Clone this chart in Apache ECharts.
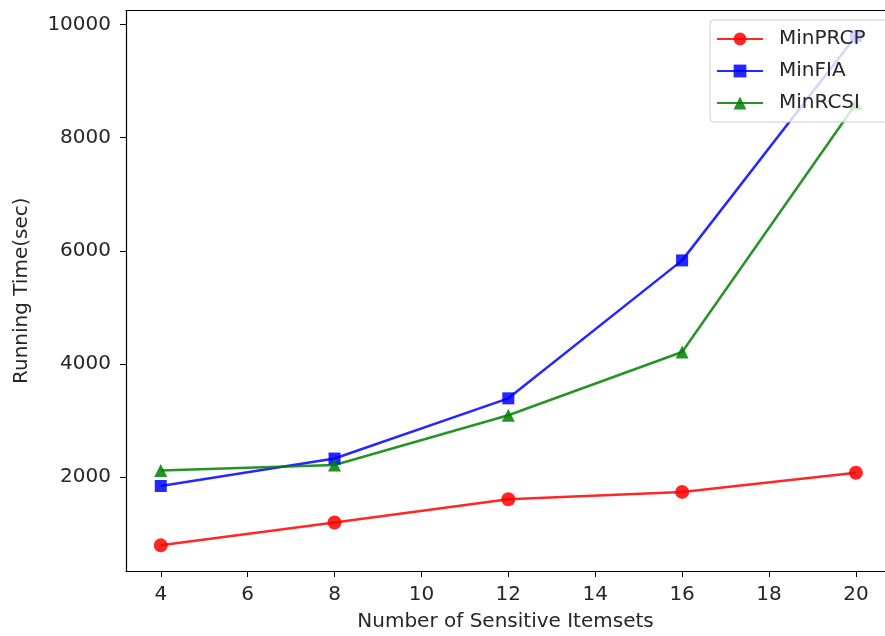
<!DOCTYPE html>
<html>
<head>
<meta charset="utf-8">
<script src="https://cdn.jsdelivr.net/npm/echarts@6/dist/echarts.min.js"></script>
<style>
  html, body { margin: 0; padding: 0; background: #fff; }
  #chart { width: 885px; height: 636px; }
</style>
</head>
<body>
<div id="chart"></div>
<script>
// data
var itemsets = [4, 8, 12, 16, 20];
var minPRCP = [790, 1195, 1605, 1735, 2075];
var minFIA = [1840, 2325, 3390, 5830, 9800];
var minRCSI = [2115, 2210, 3090, 4210, 8600];
var xTicks = [4, 6, 8, 10, 12, 14, 16, 18, 20];
var yTicks = [2000, 4000, 6000, 8000, 10000];

function pairs(vals) {
	var out = [];
	for (var i = 0; i < itemsets.length; i++) {
		out.push([itemsets[i], vals[i]]);
	}
	return out;
}

var chart = echarts.init(document.getElementById('chart'));
var txt = '#262626';
var font = 'DejaVu Sans';

function lineSeries(name, vals, color, symbol, size) {
	return {
		name: name,
		type: 'line',
		data: pairs(vals),
		symbol: symbol,
		symbolSize: size,
		lineStyle: { color: color, width: 2.5, opacity: 0.85 },
		itemStyle: { color: color, opacity: 0.85 },
		animation: false
	};
}

// the figure is cut on the right, so the x range runs past the window edge
var xMin = 3.2, xMax = 20.67;

chart.setOption({
	backgroundColor: '#fff',
	textStyle: { fontFamily: font },
	grid: { left: 126, top: 10.5, bottom: 65, right: 0, outerBoundsMode: 'none' },
	legend: {
		left: 710, top: 20,
		orient: 'vertical',
		itemWidth: 46, itemHeight: 16, itemGap: 12,
		padding: [9, 30, 9, 6],
		backgroundColor: 'rgba(255,255,255,0.8)',
		borderColor: '#cccccc', borderWidth: 1, borderRadius: 4,
		textStyle: { fontSize: 20, color: txt, fontFamily: font, padding: [0, 0, 0, 11] },
		data: ['MinPRCP', 'MinFIA', 'MinRCSI']
	},
	xAxis: [{
		type: 'value',
		min: xMin, max: xMax,
		name: 'Number of Sensitive Itemsets',
		nameLocation: 'middle', nameGap: 41,
		nameTextStyle: { fontSize: 20, color: txt, fontFamily: font },
		splitLine: { show: false },
		axisLine: { show: true, lineStyle: { color: '#000', width: 1.2 } },
		axisTick: { show: true, length: 6, customValues: xTicks, lineStyle: { color: '#000' } },
		axisLabel: {
			customValues: xTicks, fontSize: 20, color: txt, margin: 14, fontFamily: font,
			formatter: function (v) { return String(v); }
		}
	}, {
		// top spine only
		type: 'value', position: 'top',
		min: xMin, max: xMax,
		splitLine: { show: false },
		axisLine: { show: true, lineStyle: { color: '#000', width: 1.2 } },
		axisTick: { show: false },
		axisLabel: { show: false }
	}],
	yAxis: {
		type: 'value',
		min: 336, max: 10250,
		name: 'Running Time(sec)',
		nameLocation: 'middle', nameGap: 94,
		nameTextStyle: { fontSize: 20, color: txt, fontFamily: font },
		splitLine: { show: false },
		axisLine: { show: true, lineStyle: { color: '#000', width: 1.2 } },
		axisTick: { show: true, length: 6, customValues: yTicks, lineStyle: { color: '#000' } },
		axisLabel: {
			customValues: yTicks, fontSize: 20, color: txt, margin: 15, fontFamily: font,
			formatter: function (v) { return String(v); }
		}
	},
	series: [
		lineSeries('MinPRCP', minPRCP, '#ff0000', 'circle', 14),
		lineSeries('MinFIA', minFIA, '#0000ff', 'rect', 12),
		lineSeries('MinRCSI', minRCSI, '#008000', 'triangle', 13)
	]
});
</script>
</body>
</html>
